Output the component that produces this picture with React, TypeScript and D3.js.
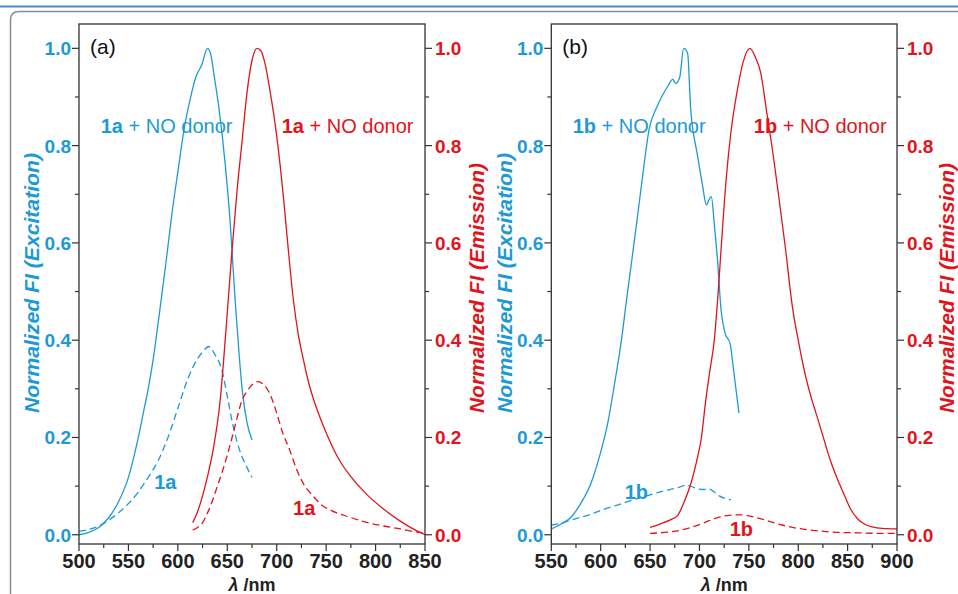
import * as d3 from "d3";

type Pt = [number, number];

// panel (a): excitation / emission of 1a with and without NO donor
const exc1aDonor: Pt[] = [
  [500, 0.0], [510, 0.005], [520, 0.015], [530, 0.035], [540, 0.068], [550, 0.118],
  [560, 0.2], [565, 0.25], [570, 0.3], [575, 0.36], [581, 0.45], [588, 0.56],
  [594, 0.66], [601, 0.76], [606, 0.83], [613, 0.9], [618, 0.94], [624, 0.965],
  [630, 1.0], [633, 0.99], [637, 0.94], [642, 0.87], [648, 0.76], [653, 0.64],
  [658, 0.48], [662, 0.37], [665, 0.3], [670, 0.23], [675, 0.195],
];
const exc1a: Pt[] = [
  [500, 0.007], [510, 0.011], [520, 0.018], [530, 0.03], [540, 0.045], [550, 0.064],
  [560, 0.088], [570, 0.118], [580, 0.152], [590, 0.2], [600, 0.26], [610, 0.32],
  [620, 0.362], [626, 0.378], [631, 0.387], [637, 0.372], [645, 0.335], [650, 0.285],
  [655, 0.232], [660, 0.19], [665, 0.16], [670, 0.138], [675, 0.118],
];
const emi1aDonor: Pt[] = [
  [615, 0.025], [620, 0.048], [625, 0.08], [630, 0.12], [636, 0.178], [643, 0.28],
  [649, 0.43], [655, 0.59], [660, 0.71], [665, 0.81], [670, 0.91], [675, 0.975],
  [680, 1.0], [684, 0.995], [688, 0.97], [693, 0.915], [700, 0.82], [707, 0.69],
  [712, 0.58], [717, 0.48], [722, 0.41], [727, 0.36], [732, 0.315], [737, 0.28],
  [744, 0.24], [751, 0.205], [757, 0.178], [765, 0.148], [774, 0.122], [791, 0.083],
  [808, 0.053], [825, 0.028], [838, 0.012], [850, 0.0],
];
const emi1a: Pt[] = [
  [615, 0.01], [620, 0.015], [625, 0.025], [630, 0.045], [635, 0.07], [640, 0.1],
  [645, 0.13], [652, 0.178], [658, 0.225], [665, 0.277], [670, 0.295], [675, 0.308],
  [681, 0.315], [687, 0.308], [693, 0.29], [700, 0.25], [706, 0.21], [713, 0.175],
  [720, 0.135], [727, 0.105], [737, 0.079], [745, 0.062], [755, 0.05], [774, 0.036],
  [790, 0.026], [808, 0.018], [825, 0.012], [840, 0.006], [850, 0.003],
];

// panel (b): 1b
const exc1bDonor: Pt[] = [
  [550, 0.012], [560, 0.022], [570, 0.036], [580, 0.065], [590, 0.105], [600, 0.17],
  [607, 0.228], [614, 0.31], [621, 0.4], [626, 0.48], [632, 0.572], [637, 0.65],
  [642, 0.73], [649, 0.833], [657, 0.88], [663, 0.905], [668, 0.922], [673, 0.936],
  [676, 0.928], [680, 0.94], [684, 1.0], [688, 0.99], [691, 0.88], [698, 0.78],
  [703, 0.72], [707, 0.678], [710, 0.69], [712, 0.695], [715, 0.64], [718, 0.572],
  [722, 0.46], [726, 0.414], [731, 0.393], [735, 0.331], [740, 0.25],
];
const exc1b: Pt[] = [
  [550, 0.02], [560, 0.024], [570, 0.03], [580, 0.036], [590, 0.042], [600, 0.05],
  [610, 0.057], [620, 0.063], [630, 0.07], [640, 0.076], [650, 0.082], [660, 0.088],
  [670, 0.093], [680, 0.098], [687, 0.102], [695, 0.097], [703, 0.093], [710, 0.094],
  [715, 0.088], [720, 0.08], [726, 0.075], [732, 0.072],
];
const emi1bDonor: Pt[] = [
  [650, 0.015], [660, 0.022], [670, 0.03], [678, 0.04], [685, 0.07], [692, 0.11],
  [697, 0.15], [702, 0.2], [706, 0.27], [710, 0.33], [715, 0.4], [719, 0.5],
  [722, 0.59], [727, 0.73], [732, 0.83], [738, 0.91], [744, 0.97], [751, 1.0],
  [757, 0.98], [762, 0.95], [768, 0.87], [774, 0.79], [780, 0.7], [787, 0.59],
  [794, 0.47], [800, 0.4], [807, 0.33], [812, 0.29], [818, 0.25], [824, 0.21],
  [833, 0.15], [840, 0.113], [847, 0.08], [853, 0.053], [860, 0.033], [867, 0.022],
  [875, 0.016], [885, 0.013], [900, 0.012],
];
const emi1b: Pt[] = [
  [650, 0.003], [660, 0.004], [670, 0.006], [680, 0.009], [690, 0.014], [700, 0.021],
  [710, 0.029], [720, 0.036], [730, 0.04], [740, 0.041], [750, 0.039], [760, 0.034],
  [770, 0.028], [780, 0.022], [790, 0.017], [800, 0.013], [820, 0.008], [840, 0.005],
  [860, 0.004], [880, 0.003], [900, 0.003],
];

const xTicksA = [500, 550, 600, 650, 700, 750, 800, 850];
const xTicksB = [550, 600, 650, 700, 750, 800, 850, 900];
const yTicks = [0, 0.2, 0.4, 0.6, 0.8, 1.0];

const BLUE = "#1d9ad6";
const RED = "#e1141c";
const FONT = "'Liberation Sans', Arial, sans-serif";

interface PanelProps {
  x0: number;
  x1: number;
  domain: [number, number];
  xTicks: number[];
  tag: string;
  cmp: string;
  excDonor: Pt[];
  exc: Pt[];
  emiDonor: Pt[];
  emi: Pt[];
  // annotation anchors in data units
  excDonorAt: Pt;
  emiDonorAt: Pt;
  excAt: Pt;
  emiAt: Pt;
  leftTitleX: number;
  rightTitleX: number;
}

function Panel(p: PanelProps) {
  const top = 24;
  const bottom = 544;
  const x = d3.scaleLinear().domain(p.domain).range([p.x0, p.x1]);
  const y = d3.scaleLinear().domain([-0.019, 1.05]).range([bottom, top]);
  const line = d3
    .line<Pt>()
    .x((d) => x(d[0]))
    .y((d) => y(d[1]))
    .curve(d3.curveMonotoneX);

  const minorX = d3.range(p.domain[0], p.domain[1] + 1, 25).filter((v) => v % 50 !== 0);
  const minorY = [0.1, 0.3, 0.5, 0.7, 0.9];

  const label = (at: Pt, color: string, bold: string, rest: string) => (
    <text x={x(at[0])} y={y(at[1])} fill={color} fontSize={20} fontFamily={FONT}>
      <tspan fontWeight="bold">{bold}</tspan>
      {rest}
    </text>
  );

  return (
    <g>
      {/* curves */}
      <path d={line(p.excDonor) ?? ""} fill="none" stroke={BLUE} strokeWidth={1.3} />
      <path d={line(p.exc) ?? ""} fill="none" stroke={BLUE} strokeWidth={1.3} strokeDasharray="7,4" />
      <path d={line(p.emiDonor) ?? ""} fill="none" stroke={RED} strokeWidth={1.3} />
      <path d={line(p.emi) ?? ""} fill="none" stroke={RED} strokeWidth={1.3} strokeDasharray="7,4" />

      {/* frame */}
      <rect x={p.x0} y={top} width={p.x1 - p.x0} height={bottom - top} fill="none" stroke="#333" strokeWidth={1.3} />

      {/* x axis */}
      {p.xTicks.map((t) => (
        <g key={"xt" + t}>
          <line x1={x(t)} x2={x(t)} y1={bottom} y2={bottom + 7} stroke="#333" strokeWidth={1.2} />
          <text x={x(t)} y={bottom + 24} textAnchor="middle" fontSize={20} fontWeight="bold" fill="#222" fontFamily={FONT}>
            {t}
          </text>
        </g>
      ))}
      {minorX.map((t) => (
        <line key={"xm" + t} x1={x(t)} x2={x(t)} y1={bottom} y2={bottom + 4} stroke="#333" strokeWidth={1.2} />
      ))}
      <text x={(p.x0 + p.x1) / 2} y={591} textAnchor="middle" fontSize={18} fill="#222" fontFamily={FONT} fontWeight="bold">
        <tspan fontStyle="italic">λ</tspan> /nm
      </text>

      {/* y axes */}
      {yTicks.map((t) => (
        <g key={"yt" + t}>
          <line x1={p.x0 - 7} x2={p.x0} y1={y(t)} y2={y(t)} stroke="#333" strokeWidth={1.2} />
          <text x={p.x0 - 8} y={y(t) + 7} textAnchor="end" fontSize={19} fontWeight="bold" fill={BLUE} fontFamily={FONT}>
            {t.toFixed(1)}
          </text>
          <line x1={p.x1} x2={p.x1 + 7} y1={y(t)} y2={y(t)} stroke="#333" strokeWidth={1.2} />
          <text x={p.x1 + 10} y={y(t) + 7} textAnchor="start" fontSize={19} fontWeight="bold" fill={RED} fontFamily={FONT}>
            {t.toFixed(1)}
          </text>
        </g>
      ))}
      {minorY.map((t) => (
        <g key={"ym" + t}>
          <line x1={p.x0 - 4} x2={p.x0} y1={y(t)} y2={y(t)} stroke="#333" strokeWidth={1.2} />
          <line x1={p.x1} x2={p.x1 + 4} y1={y(t)} y2={y(t)} stroke="#333" strokeWidth={1.2} />
        </g>
      ))}
      <text
        transform={`translate(${p.leftTitleX},413) rotate(-90)`}
        fontSize={20}
        fontWeight="bold"
        fontStyle="italic"
        fill={BLUE}
        fontFamily={FONT}
        textLength={260}
        lengthAdjust="spacingAndGlyphs"
      >
        Normalized FI (Excitation)
      </text>
      <text
        transform={`translate(${p.rightTitleX},413) rotate(-90)`}
        fontSize={20}
        fontWeight="bold"
        fontStyle="italic"
        fill={RED}
        fontFamily={FONT}
        textLength={250}
        lengthAdjust="spacingAndGlyphs"
      >
        Normalized FI (Emission)
      </text>

      {/* panel tag and annotations */}
      <text x={p.x0 + 11} y={54} fontSize={21} fill="#111" fontFamily={FONT}>
        {p.tag}
      </text>
      {label(p.excDonorAt, BLUE, p.cmp, " + NO donor")}
      {label(p.emiDonorAt, RED, p.cmp, " + NO donor")}
      {label(p.excAt, BLUE, p.cmp, "")}
      {label(p.emiAt, RED, p.cmp, "")}
    </g>
  );
}

export default function App() {
  return (
    <svg
      width={958}
      height={594}
      style={{ position: "absolute", left: 0, top: 0, background: "#fff" }}
    >
      <rect x={0} y={0} width={958} height={594} fill="#fff" />
      <line x1={0} x2={958} y1={6.5} y2={6.5} stroke="#4a8bd6" strokeWidth={2} />
      <path d="M10.5,594 L10.5,20 Q10.5,11.5 19,11.5 L958,11.5" fill="none" stroke="#8c8c8c" strokeWidth={1.5} />
      <Panel
        x0={79}
        x1={425}
        domain={[500, 850]}
        xTicks={xTicksA}
        tag="(a)"
        cmp="1a"
        excDonor={exc1aDonor}
        exc={exc1a}
        emiDonor={emi1aDonor}
        emi={emi1a}
        excDonorAt={[522, 0.826]}
        emiDonorAt={[705, 0.826]}
        excAt={[576, 0.094]}
        emiAt={[716.5, 0.041]}
        leftTitleX={39}
        rightTitleX={484}
      />
      <Panel
        x0={551.3}
        x1={897}
        domain={[550, 900]}
        xTicks={xTicksB}
        tag="(b)"
        cmp="1b"
        excDonor={exc1bDonor}
        exc={exc1b}
        emiDonor={emi1bDonor}
        emi={emi1b}
        excDonorAt={[571.7, 0.826]}
        emiDonorAt={[755, 0.826]}
        excAt={[624.3, 0.074]}
        emiAt={[730.6, -0.002]}
        leftTitleX={512}
        rightTitleX={954}
      />
    </svg>
  );
}
